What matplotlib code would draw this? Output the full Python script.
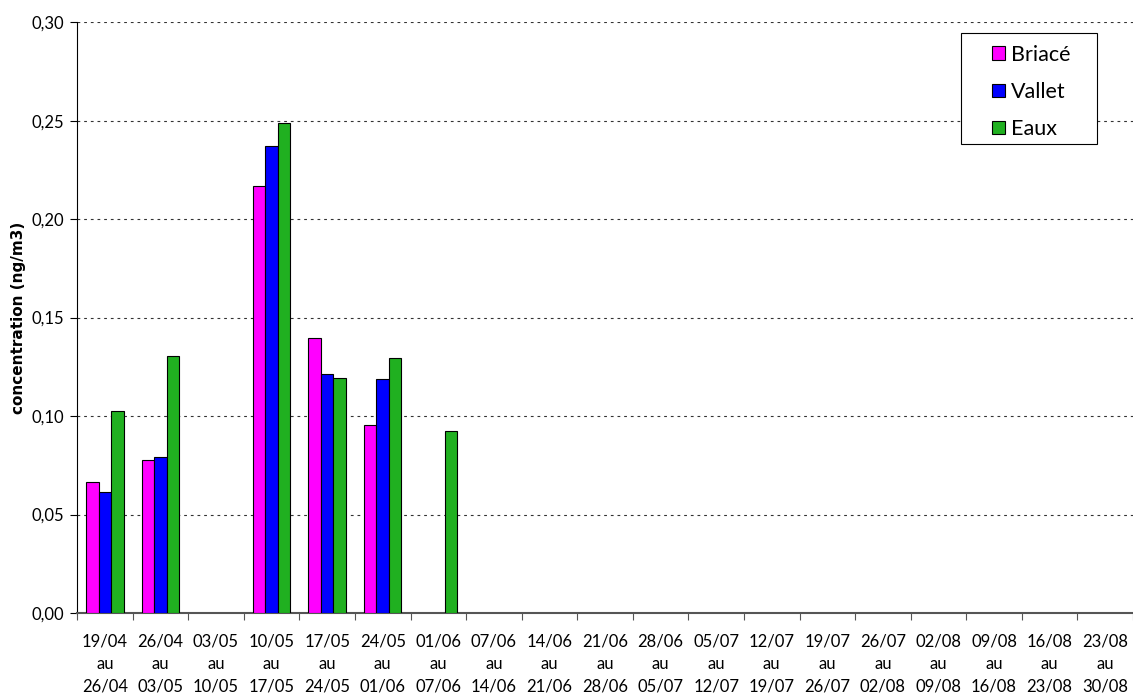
import matplotlib
matplotlib.use("Agg")
import matplotlib.pyplot as plt
from matplotlib.patches import Rectangle
import numpy as np

plt.rcParams["font.family"] = ["Lato", "DejaVu Sans"]

# semaines de prélèvement
debuts = ["19/04", "26/04", "03/05", "10/05", "17/05", "24/05", "01/06", "07/06",
          "14/06", "21/06", "28/06", "05/07", "12/07", "19/07", "26/07", "02/08",
          "09/08", "16/08", "23/08"]
fins = ["26/04", "03/05", "10/05", "17/05", "24/05", "01/06", "07/06", "14/06",
        "21/06", "28/06", "05/07", "12/07", "19/07", "26/07", "02/08", "09/08",
        "16/08", "23/08", "30/08"]

nan = np.nan
briace = [0.0665, 0.0777, nan, 0.2168, 0.1396, 0.0954, nan] + [nan] * 12
vallet = [0.0614, 0.0792, nan, 0.2370, 0.1215, 0.1188, nan] + [nan] * 12
eaux = [0.1025, 0.1305, nan, 0.2487, 0.1193, 0.1294, 0.0924] + [nan] * 12

series = [("Briacé", briace, "#ff00ff"),
          ("Vallet", vallet, "#0000ff"),
          ("Eaux", eaux, "#20b020")]

fig = plt.figure(figsize=(11.33, 6.95), dpi=100)
ax = fig.add_axes([0.068, 0.118, 0.932, 0.85])

x = np.arange(len(debuts))
w = 0.225
for i, (nom, vals, col) in enumerate(series):
    ax.bar(x + (i - 1) * w, vals, w, color=col, edgecolor="black",
           linewidth=0.8, label=nom, zorder=3)

ax.set_xlim(-0.5, len(debuts) - 0.5)
ax.set_ylim(0, 0.30)
yt = np.arange(0, 0.301, 0.05)
ax.set_yticks(yt)
ax.set_yticklabels([f"{v:.2f}".replace(".", ",") for v in yt], fontsize=12)
ax.yaxis.grid(True, linestyle=(0, (2.5, 3.5)), color="#333333", linewidth=0.8, zorder=0)

# graduations entre les catégories, étiquettes au centre
ax.set_xticks(np.arange(len(debuts) + 1) - 0.5)
ax.set_xticklabels([])
ax.tick_params(axis="x", which="major", length=5, color="#555555")
ax.set_xticks(x, minor=True)
ax.set_xticklabels([f"{d}\nau\n{f}" for d, f in zip(debuts, fins)],
                   minor=True, fontsize=12, linespacing=1.48)
ax.tick_params(axis="x", which="minor", length=0, pad=15)
ax.tick_params(axis="y", length=5, pad=4)

ax.spines["right"].set_visible(False)
ax.spines["top"].set_visible(False)
ax.spines["bottom"].set_color("#555555")
ax.spines["bottom"].set_linewidth(1.5)

ax.set_ylabel("concentration (ng/m3)", fontsize=11, fontweight="bold",
              family="DejaVu Sans", labelpad=4)

# cadre de la légende, plus large que son contenu
ax.add_patch(Rectangle((0.837, 0.794), 0.129, 0.187, transform=ax.transAxes,
                       facecolor="white", edgecolor="black", linewidth=0.8,
                       zorder=4, clip_on=False))
leg = ax.legend(loc="center left", bbox_to_anchor=(0.8665, 0.882), fontsize=15.5,
                frameon=False, handlelength=0.6, handleheight=0.6,
                handletextpad=0.3, labelspacing=0.8, borderpad=0,
                borderaxespad=0)
leg.set_zorder(5)

plt.savefig("out.png", dpi=100)
